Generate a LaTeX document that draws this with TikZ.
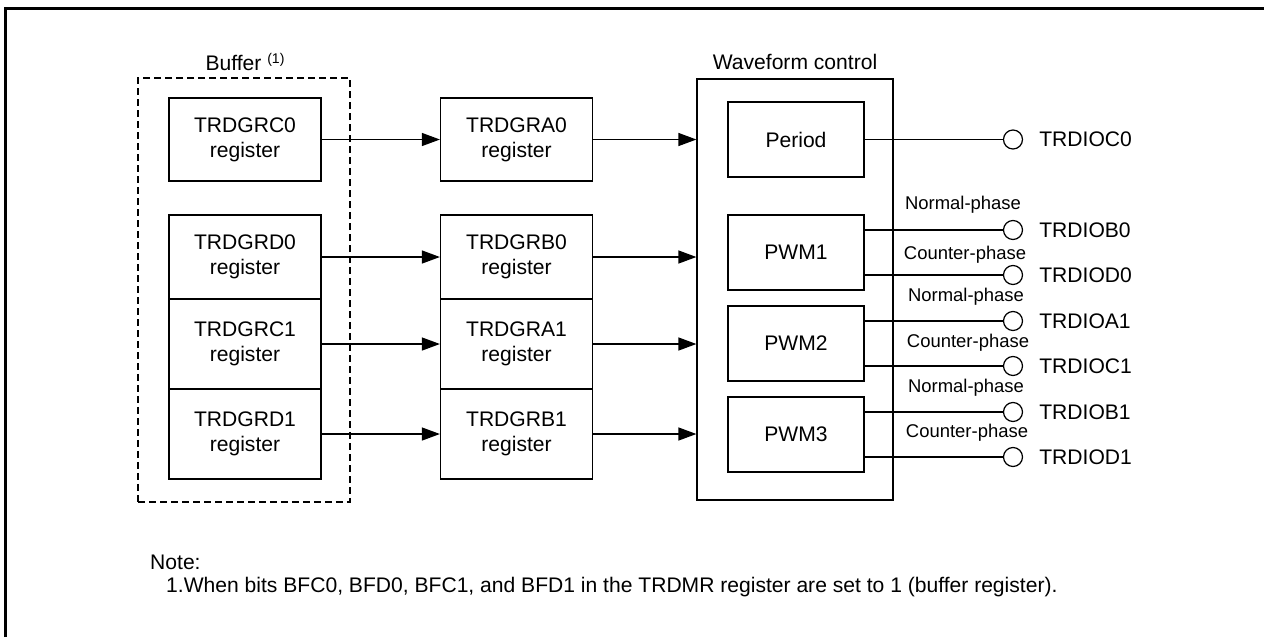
\documentclass[tikz,border=0pt]{standalone}
\usepackage{fontspec}
\setmainfont{Liberation Sans}
\usetikzlibrary{arrows.meta,positioning}

\begin{document}
\begin{tikzpicture}[
  x=0.02cm, y=-0.02cm,
  font=\fontsize{12}{14.2}\selectfont,
  reg/.style={draw, line width=0.7pt, minimum width=3.04cm,
              align=center, inner sep=0pt},
  blk/.style={draw, line width=0.7pt, minimum width=2.72cm,
              minimum height=1.5cm},
  arrow/.style={-{Triangle[length=0.36cm, width=0.26cm]}, line width=0.7pt},
  wire/.style={line width=0.7pt},
  outpin/.style={draw, circle, line width=0.7pt, minimum size=0.38cm,
                 inner sep=0pt},
  phase/.style={font=\fontsize{10.5}{12}\selectfont},
]
  \useasboundingbox (0,0) rectangle (1264,637);
  \draw[line width=1.7pt] (5.5,637) -- (5.5,8.5) -- (1264,8.5);

  \node[draw, dash pattern=on 0.14cm off 0.08cm, line width=1.1pt,
        minimum width=4.24cm, minimum height=8.48cm] (buf) at (244,290) {};
  \node[draw, line width=0.7pt, minimum width=3.92cm,
        minimum height=8.42cm] (wave) at (795,289.5) {};
  \node (buflbl) at (245,62)
    {Buffer \raisebox{0.55ex}{\fontsize{8}{9}\selectfont(1)}};
  \node (wavelbl) at (795,62) {Waveform control};

  \node[reg, minimum height=1.66cm] (c0) at (245,139.5) {TRDGRC0\\register};
  \node[reg, minimum height=1.68cm] (d0) at (245,257)   {TRDGRD0\\register};
  \node[reg, minimum height=1.8cm]  (c1) at (245,344)   {TRDGRC1\\register};
  \node[reg, minimum height=1.8cm]  (d1) at (245,434)   {TRDGRD1\\register};

  \node[reg, minimum height=1.66cm] (a0) at (516.5,139.5) {TRDGRA0\\register};
  \node[reg, minimum height=1.68cm] (b0) at (516.5,257)   {TRDGRB0\\register};
  \node[reg, minimum height=1.8cm]  (a1) at (516.5,344)   {TRDGRA1\\register};
  \node[reg, minimum height=1.8cm]  (b1) at (516.5,434)   {TRDGRB1\\register};

  \node[blk] (period) at (796,139.5) {Period};
  \node[blk] (pwm1)   at (796,252.5) {PWM1};
  \node[blk] (pwm2)   at (796,343.5) {PWM2};
  \node[blk] (pwm3)   at (796,434.5) {PWM3};

  \draw[arrow] (c0.east) -- (a0.west);
  \draw[arrow] (d0.east) -- (b0.west);
  \draw[arrow] (c1.east) -- (a1.west);
  \draw[arrow] (d1.east) -- (b1.west);
  \draw[arrow] (a0.east) -- (a0.east -| wave.west);
  \draw[arrow] (b0.east) -- (b0.east -| wave.west);
  \draw[arrow] (a1.east) -- (a1.east -| wave.west);
  \draw[arrow] (b1.east) -- (b1.east -| wave.west);

  \node[outpin] (pc0) at (1013,139.5) {};
  \node[outpin] (pb0) at (1013,230)   {};
  \node[outpin] (pd0) at (1013,275)   {};
  \node[outpin] (pa1) at (1013,321)   {};
  \node[outpin] (pc1) at (1013,366)   {};
  \node[outpin] (pb1) at (1013,412)   {};
  \node[outpin] (pd1) at (1013,457)   {};

  \node[right=0.2cm of pc0] (tc0) {TRDIOC0};
  \node[right=0.2cm of pb0] (tb0) {TRDIOB0};
  \node[right=0.2cm of pd0] (td0) {TRDIOD0};
  \node[right=0.2cm of pa1] (ta1) {TRDIOA1};
  \node[right=0.2cm of pc1] (tc1) {TRDIOC1};
  \node[right=0.2cm of pb1] (tb1) {TRDIOB1};
  \node[right=0.2cm of pd1] (td1) {TRDIOD1};

  \draw[wire] (period.east) -- (pc0.west);
  \draw[wire] (pwm1.east |- pb0) -- (pb0.west);
  \draw[wire] (pwm1.east |- pd0) -- (pd0.west);
  \draw[wire] (pwm2.east |- pa1) -- (pa1.west);
  \draw[wire] (pwm2.east |- pc1) -- (pc1.west);
  \draw[wire] (pwm3.east |- pb1) -- (pb1.west);
  \draw[wire] (pwm3.east |- pd1) -- (pd1.west);

  \node[phase] (nb0) at (963,205) {Normal-phase};
  \node[phase] (cd0) at (965,255) {Counter-phase};
  \node[phase] (na1) at (966,297) {Normal-phase};
  \node[phase] (cc1) at (968,343) {Counter-phase};
  \node[phase] (nb1) at (966,388) {Normal-phase};
  \node[phase] (cd1) at (967,433) {Counter-phase};

  \node[anchor=west] (note)  at (144,562) {Note:};
  \node[anchor=west] (note1) at (160,587)
    {1.When bits BFC0, BFD0, BFC1, and BFD1 in the TRDMR register are set to 1 (buffer register).};
\end{tikzpicture}
\end{document}
